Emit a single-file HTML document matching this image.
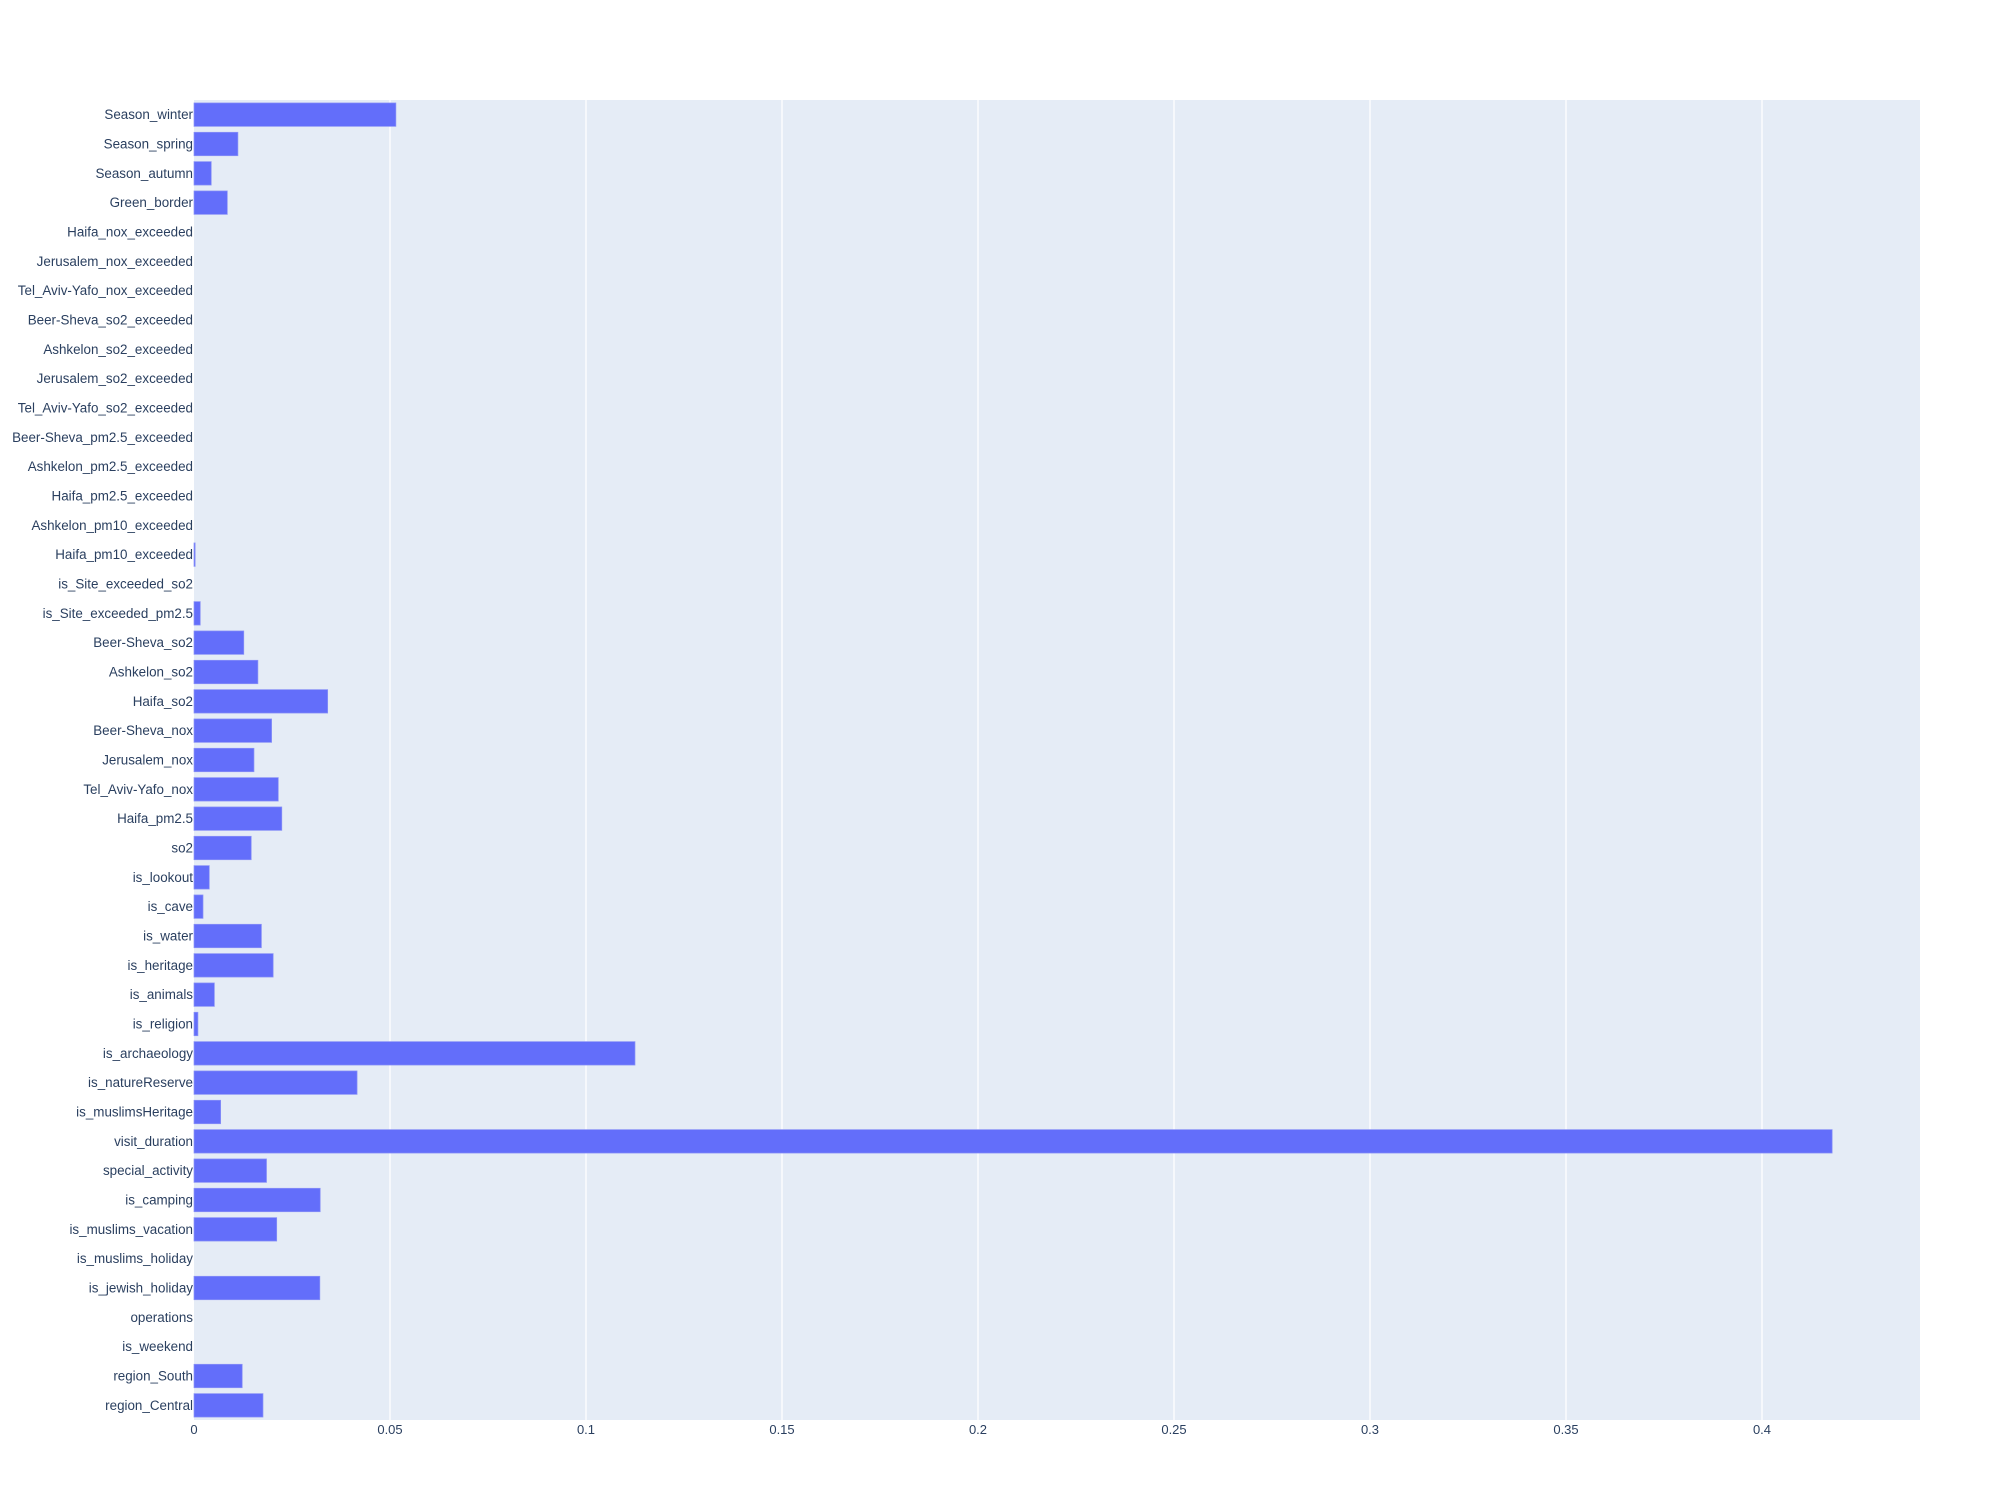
<!DOCTYPE html>
<html><head><meta charset="utf-8"><style>
body{margin:0;background:#fff;}
svg{display:block;font-family:"Liberation Sans",Arial,sans-serif;}
</style></head><body>
<svg id="chart" width="2000" height="1500" xmlns="http://www.w3.org/2000/svg">
<rect x="194" y="100" width="1726" height="1320" fill="#e5ecf6"/>
<g id="grid"></g>
<g id="bars"></g>
<g id="ylabels"></g>
<g id="xlabels"></g>
</svg>
<script>
const categories = ["region_Central","region_South","is_weekend","operations","is_jewish_holiday","is_muslims_holiday","is_muslims_vacation","is_camping","special_activity","visit_duration","is_muslimsHeritage","is_natureReserve","is_archaeology","is_religion","is_animals","is_heritage","is_water","is_cave","is_lookout","so2","Haifa_pm2.5","Tel_Aviv-Yafo_nox","Jerusalem_nox","Beer-Sheva_nox","Haifa_so2","Ashkelon_so2","Beer-Sheva_so2","is_Site_exceeded_pm2.5","is_Site_exceeded_so2","Haifa_pm10_exceeded","Ashkelon_pm10_exceeded","Haifa_pm2.5_exceeded","Ashkelon_pm2.5_exceeded","Beer-Sheva_pm2.5_exceeded","Tel_Aviv-Yafo_so2_exceeded","Jerusalem_so2_exceeded","Ashkelon_so2_exceeded","Beer-Sheva_so2_exceeded","Tel_Aviv-Yafo_nox_exceeded","Jerusalem_nox_exceeded","Haifa_nox_exceeded","Green_border","Season_autumn","Season_spring","Season_winter"];
const values = [0.0176,0.0123,0,0,0.0321,0,0.0211,0.0322,0.0185,0.4179,0.0068,0.0416,0.1125,0.001,0.0052,0.0202,0.0172,0.0023,0.0039,0.0146,0.0224,0.0215,0.0153,0.0198,0.0341,0.0163,0.0127,0.0016,0,0.0003,0,0,0,0,0,0,0,0,0,0,0,0.0085,0.0044,0.0112,0.0515];
const xTicks = [0,0.05,0.1,0.15,0.2,0.25,0.3,0.35,0.4];
const xTickLabels = ["0","0.05","0.1","0.15","0.2","0.25","0.3","0.35","0.4"];
const NS="http://www.w3.org/2000/svg";
const L=194,R=1920,T=100,B=1420,XMAX=1726/3920;
const xs=v=>L+v/XMAX*(R-L);
const band=(B-T)/categories.length;
const yc=i=>B-(i+0.5)*band;
const grid=document.getElementById('grid'),bars=document.getElementById('bars'),yl=document.getElementById('ylabels'),xl=document.getElementById('xlabels');
xTicks.forEach((t,k)=>{
  if(t>0){const g=document.createElementNS(NS,'line');
  
  
  g.setAttribute('x1',xs(t));g.setAttribute('x2',xs(t));g.setAttribute('y1',T);g.setAttribute('y2',B);g.setAttribute('stroke','#fff');g.setAttribute('stroke-width','1.3');grid.appendChild(g);}
  const tx=document.createElementNS(NS,'text');
  
  
  tx.setAttribute('x',xs(t));tx.setAttribute('y',B+14);tx.setAttribute('text-anchor','middle');tx.setAttribute('font-size','13');tx.setAttribute('fill','#2a3f5f');tx.textContent=xTickLabels[k];xl.appendChild(tx);
});
categories.forEach((c,i)=>{
  const h=band*0.8;
  const r=document.createElementNS(NS,'rect');
  
  
  r.setAttribute('x',L);r.setAttribute('y',yc(i)-h/2);r.setAttribute('width',Math.max(0,xs(values[i])-L));r.setAttribute('height',h);r.setAttribute('fill','#636efa');r.setAttribute('stroke','#8c94f7');r.setAttribute('stroke-width','0.7');bars.appendChild(r);
  const tx=document.createElementNS(NS,'text');
  
  
  tx.setAttribute('x',L-1);tx.setAttribute('y',yc(i)+4.5);tx.setAttribute('text-anchor','end');tx.setAttribute('font-size','13.4');tx.setAttribute('fill','#2a3f5f');tx.textContent=c;yl.appendChild(tx);
});
</script>
</body></html>
